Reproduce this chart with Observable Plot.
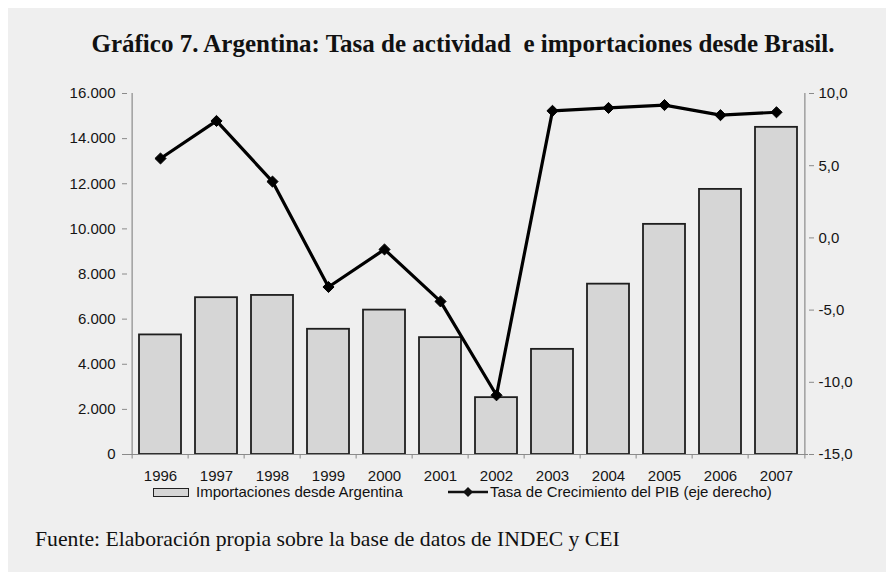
<!DOCTYPE html>
<html>
<head>
<meta charset="utf-8">
<script src="https://cdn.jsdelivr.net/npm/d3@7"></script>
<script src="https://cdn.jsdelivr.net/npm/@observablehq/plot@0.6"></script>
<style>
  html, body { margin: 0; padding: 0; background: #ffffff; }
  #page { position: absolute; left: 8px; top: 8px; width: 878px; height: 564px; background: #efefef; }
  #title { position: absolute; left: 20px; top: 30px; width: 886px; text-align: center; font-family: "Liberation Serif", serif; font-weight: bold; font-size: 25px; color: #111; white-space: nowrap; }
  #chart { position: absolute; left: 0; top: 80px; }
  #legend { position: absolute; left: 0; top: 482px; width: 886px; height: 20px; font-family: "Liberation Sans", Arial, sans-serif; font-size: 15px; color: #111; }
  .sw { position: absolute; }
  .lt { position: absolute; top: 1px; white-space: nowrap; }
  #caption { position: absolute; left: 35px; top: 527px; font-family: "Liberation Serif", serif; font-size: 21.7px; color: #111; white-space: nowrap; }
</style>
</head>
<body>
<div id="page"></div>
<div id="title">Gráfico 7. Argentina: Tasa de actividad&nbsp; e importaciones desde Brasil.</div>
<div id="chart"></div>
<div id="legend">
  <div class="sw" style="left:153px; top:6px; width:34px; height:7px; background:#d6d6d6; border:1.5px solid #222;"></div>
  <div class="lt" style="left:196px;">Importaciones desde Argentina</div>
  <svg class="sw" style="left:447px; top:2px;" width="42" height="16"><line x1="1" y1="8" x2="41" y2="8" stroke="#111" stroke-width="2.5"/><path d="M21,3 L26,8 L21,13 L16,8 Z" fill="#111"/></svg>
  <div class="lt" style="left:490px;">Tasa de Crecimiento del PIB (eje derecho)</div>
</div>
<div id="caption">Fuente: Elaboración propia sobre la base de datos de INDEC y CEI</div>
<script>
const years = ["1996","1997","1998","1999","2000","2001","2002","2003","2004","2005","2006","2007"];
const imports = [5300, 6950, 7050, 5550, 6400, 5180, 2520, 4660, 7550, 10200, 11750, 14500];
const gdp = [5.5, 8.1, 3.9, -3.4, -0.8, -4.4, -10.9, 8.8, 9.0, 9.2, 8.5, 8.7];
const leftTicks = [0, 2000, 4000, 6000, 8000, 10000, 12000, 14000, 16000];
const rightTicks = [-15, -10, -5, 0, 5, 10];
const leftDomain = [0, 16000];
const rightDomain = [-15, 10];

const toLeft = v => (v - rightDomain[0]) / (rightDomain[1] - rightDomain[0]) * (leftDomain[1] - leftDomain[0]) + leftDomain[0];
const toRight = v => (v - leftDomain[0]) / (leftDomain[1] - leftDomain[0]) * (rightDomain[1] - rightDomain[0]) + rightDomain[0];

const barData = years.map((y, i) => ({year: y, value: imports[i]}));
const lineData = years.map((y, i) => ({year: y, value: gdp[i], scaled: toLeft(gdp[i])}));

const W = 886, H = 410;
const mL = 127, mR = 78, mT = 13, mB = 36;
const step = (W - mL - mR) / years.length;
const axisGray = "#8a8a8a";

const fmtLeft = d => d3.format(",")(d).replace(/,/g, ".");
const fmtRight = d => toRight(d).toFixed(1).replace(".", ",");

const chart = Plot.plot({
  width: W, height: H,
  marginLeft: mL, marginRight: mR, marginTop: mT, marginBottom: mB,
  style: {background: "transparent", fontFamily: "'Liberation Sans', Arial, sans-serif", fontSize: "15px", color: "#151515"},
  x: {type: "band", domain: years, padding: 0},
  y: {domain: leftDomain},
  marks: [
    Plot.barY(barData, {x: "year", y: "value", fill: "#d6d6d6", stroke: "#1e1e1e", strokeWidth: 1.8, insetLeft: 7, insetRight: 7}),
    Plot.ruleY([0], {stroke: axisGray, strokeWidth: 1.2}),
    Plot.ruleX([years[0]], {dx: -step / 2, y1: leftDomain[0], y2: leftDomain[1], stroke: axisGray, strokeWidth: 1.2}),
    Plot.ruleX([years[years.length - 1]], {dx: step / 2, y1: leftDomain[0], y2: leftDomain[1], stroke: axisGray, strokeWidth: 1.2}),
    Plot.ruleX(years, {dx: -step / 2, y1: 0, y2: -200, stroke: axisGray, strokeWidth: 1}),
    Plot.ruleX([years[years.length - 1]], {dx: step / 2, y1: 0, y2: -200, stroke: axisGray, strokeWidth: 1}),
    Plot.axisY(leftTicks, {anchor: "left", tickSize: 5, tickPadding: 7, tickFormat: fmtLeft, stroke: axisGray, label: null}),
    Plot.axisY(rightTicks.map(toLeft), {anchor: "right", tickSize: 5, tickPadding: 5, tickFormat: fmtRight, stroke: axisGray, label: null}),
    Plot.axisX({tickSize: 0, tickPadding: 16, label: null}),
    Plot.line(lineData, {x: "year", y: "scaled", stroke: "#000", strokeWidth: 3.2}),
    Plot.dot(lineData, {x: "year", y: "scaled", symbol: "diamond2", r: 5, fill: "#000", stroke: "#000", strokeWidth: 1})
  ]
});
document.getElementById("chart").appendChild(chart);
</script>
</body>
</html>
